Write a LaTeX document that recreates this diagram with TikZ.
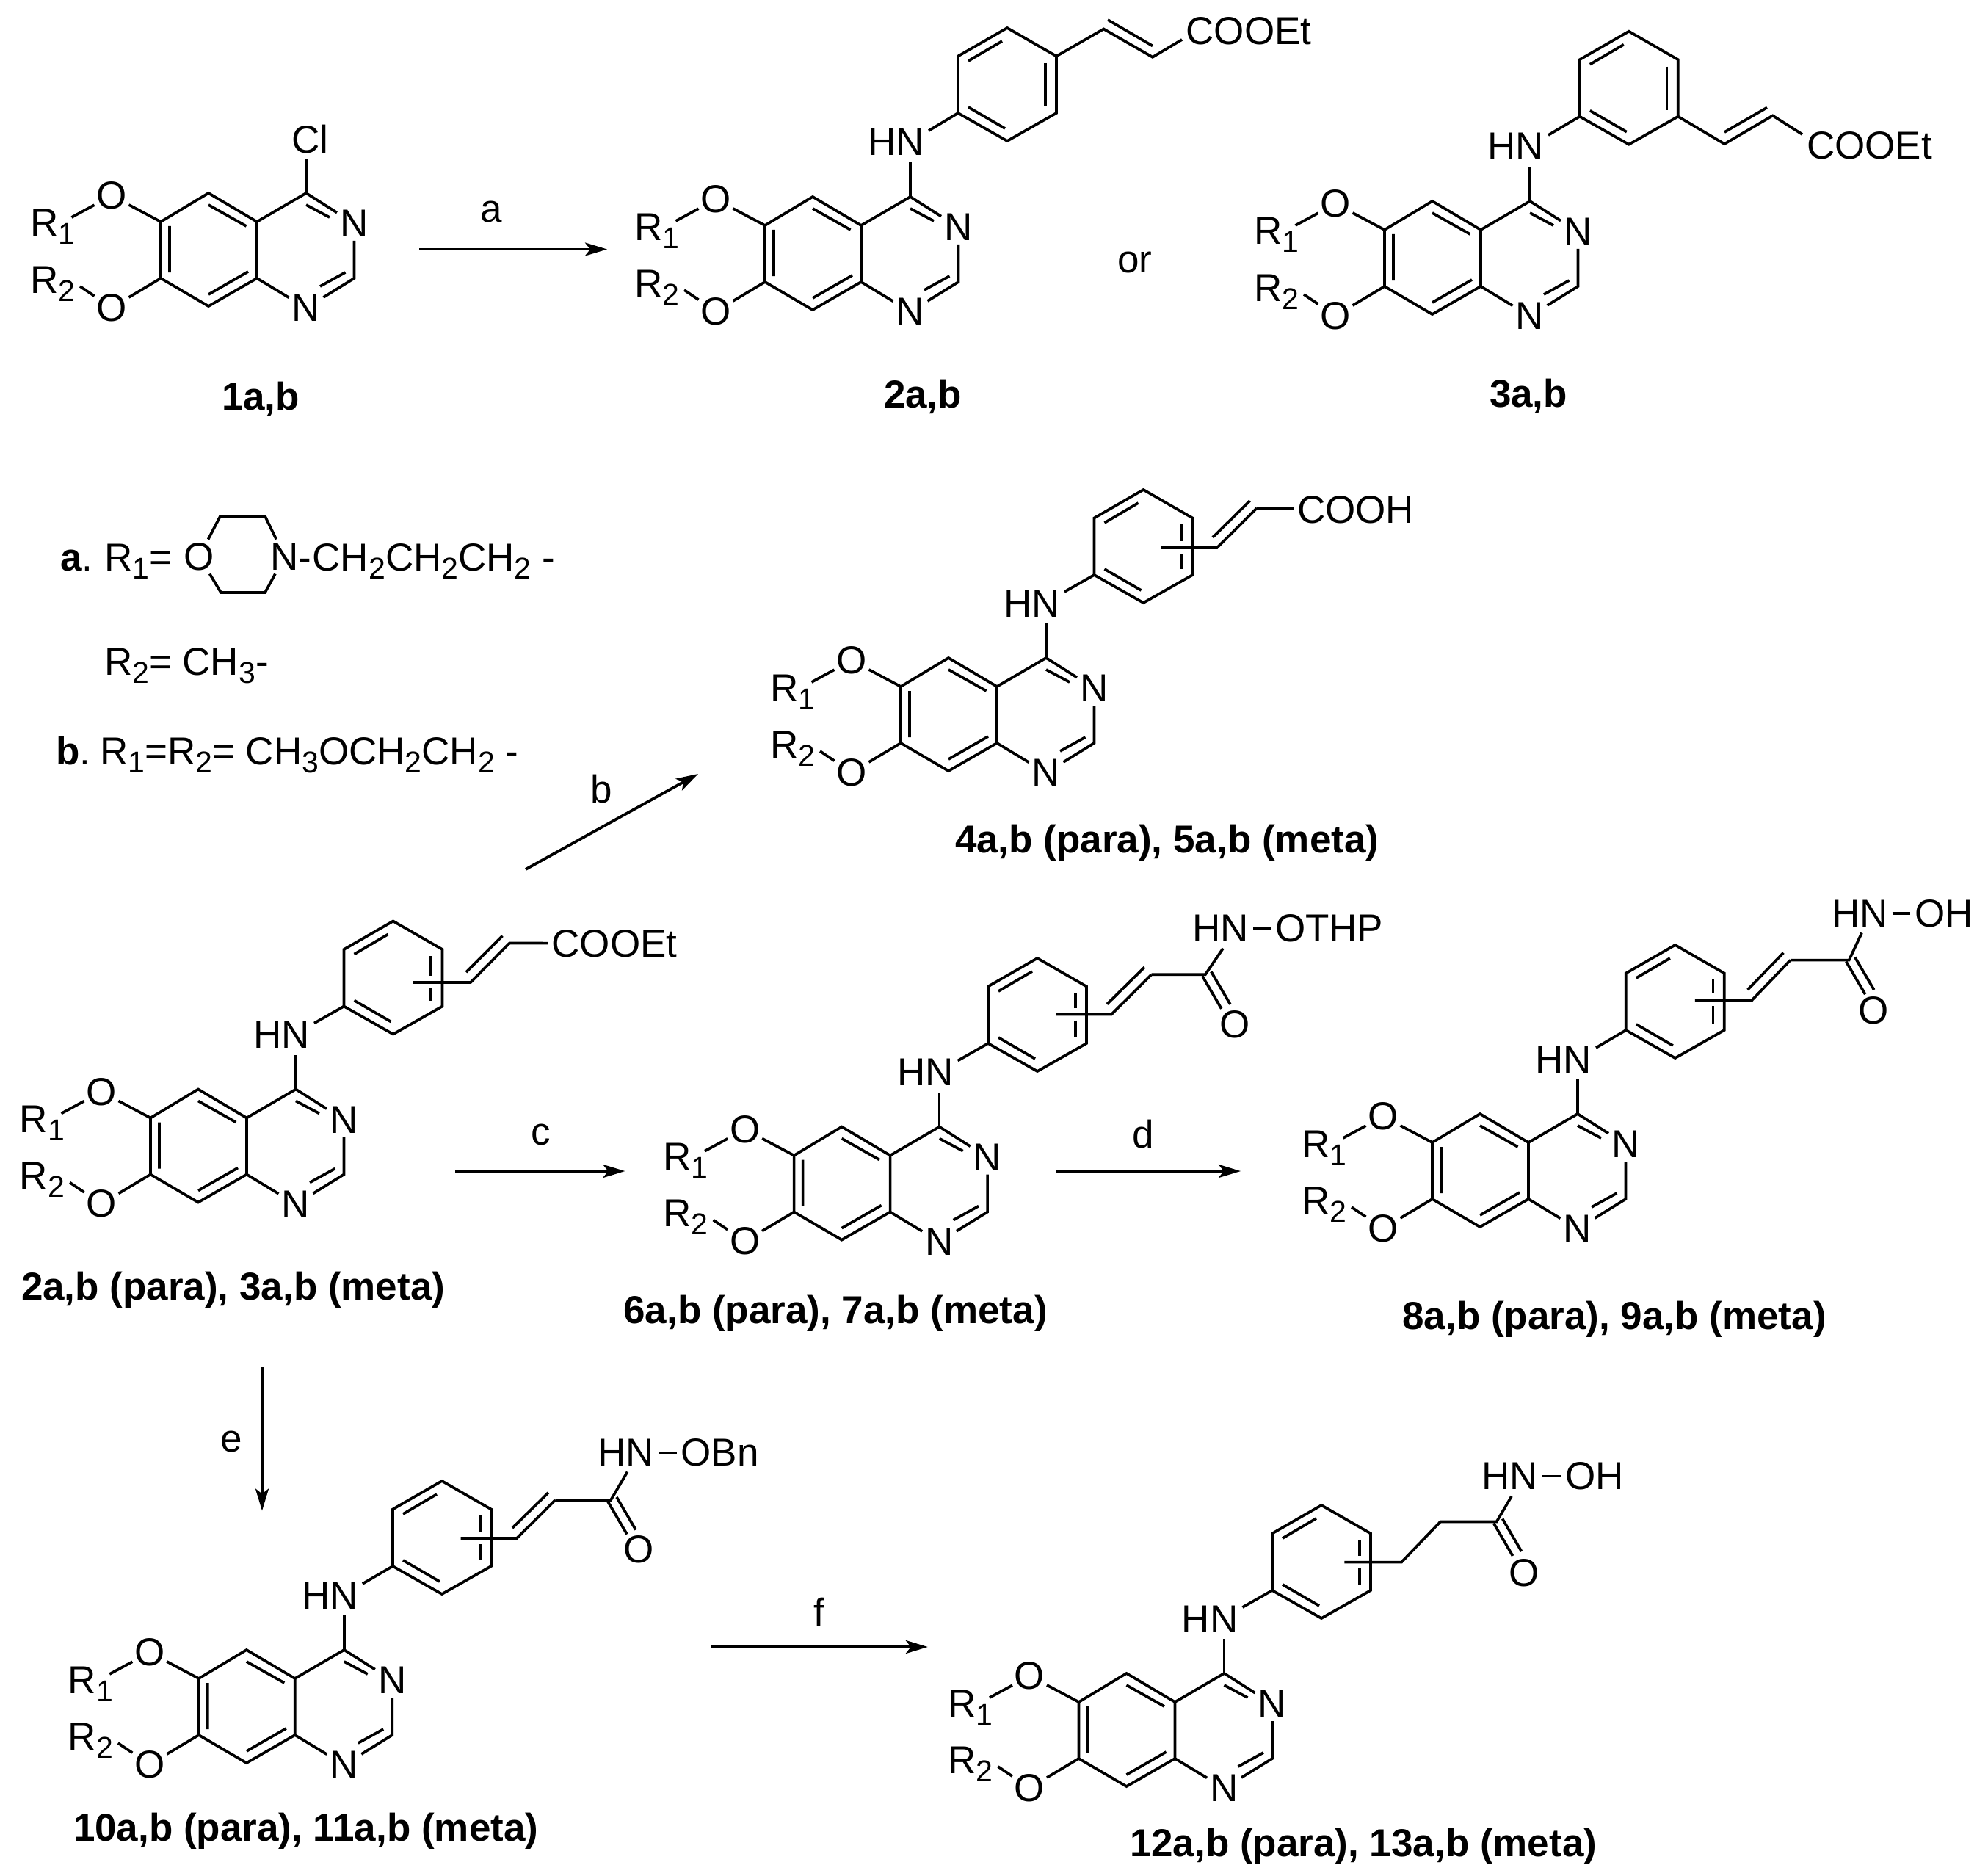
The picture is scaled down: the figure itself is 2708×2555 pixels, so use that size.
\documentclass[tikz,border=0pt]{standalone}
\usepackage{fontspec}
\setmainfont{Liberation Sans}
\usetikzlibrary{arrows.meta,calc}
\tikzset{
  x=1pt,y=-1pt,
  bond/.style={line width=3.7pt,line join=miter,line cap=butt},
  rxn/.style={line width=3.8pt,-{Stealth[length=30pt,width=18pt,inset=7pt]}},
  txt/.style={font=\fontsize{53}{60}\selectfont,inner sep=0pt,outer sep=0pt,anchor=base west},
  atom/.style={font=\fontsize{53}{60}\selectfont,inner sep=0pt,outer sep=0pt,minimum width=47pt,minimum height=47pt},
  lab/.style={font=\fontsize{53}{60}\selectfont\bfseries,inner sep=0pt,outer sep=0pt,anchor=base west},
  cond/.style={font=\fontsize{53}{60}\selectfont,inner sep=0pt,outer sep=0pt},
}
\newcommand\su[1]{\raisebox{-11pt}{\fontsize{41}{41}\selectfont #1}}
% quinazoline core: prefix, x, y of C4
\newcommand\core[3]{%
\begin{scope}[shift={(#2,#3)}]
  \coordinate (#1c4) at (0,0);
  \coordinate (#1c4a) at (-67,39);
  \coordinate (#1c5) at (-133,0);
  \coordinate (#1c6) at (-198,39);
  \coordinate (#1c7) at (-198,116);
  \coordinate (#1c8) at (-133,154);
  \coordinate (#1c8a) at (-67,116);
  \coordinate (#1c2) at (65.5,116);
  \node[atom] (#1n3) at (65.5,41.5) {N};
  \node[atom] (#1n1) at (0,156.5) {N};
  \node[atom] (#1o1) at (-265,3.5) {O};
  \node[atom] (#1o2) at (-265,156) {O};
  \node[txt] (#1r1) at (-376,59) {R\su{1}};
  \node[txt] (#1r2) at (-376,136) {R\su{2}};
  \coordinate (#1ra) at (-319.5,33);
  \coordinate (#1rb) at (-308,127);
  \draw[bond] (#1c4a)--(#1c5)--(#1c6)--(#1c7)--(#1c8)--(#1c8a)--cycle;
  \draw[bond] (#1n3)--(#1c4)--(#1c4a);
  \draw[bond] (#1n3)--(#1c2)--(#1n1)--(#1c8a);
  \draw[bond] (#1ra)--(#1o1)--(#1c6);
  \draw[bond] (#1rb)--(#1o2)--(#1c7);
  \coordinate (#1i1) at (0,16); \coordinate (#1i2) at (32,33);
  \coordinate (#1i3) at (-133,16); \coordinate (#1i4) at (-81.5,45);
  \coordinate (#1i5) at (-186,45); \coordinate (#1i6) at (-186,108);
  \coordinate (#1i7) at (-133,138); \coordinate (#1i8) at (-79,107);
  \coordinate (#1i9) at (19,127); \coordinate (#1i0) at (53.4,108);
  \draw[bond] (#1i1)--(#1i2) (#1i3)--(#1i4) (#1i5)--(#1i6) (#1i7)--(#1i8) (#1i9)--(#1i0);
  \coordinate (#1top) at (0,-47);
  \coordinate (#1na) at (25,-90);
\end{scope}}
% HN on a core
\newcommand\amine[1]{%
  \node[txt,anchor=base east] (#1hn) at ($(#1c4)+(19,-56)$) {HN};
  \draw[bond] (#1c4)--(#1top);}
% phenyl ring outline: prefix, x, y of ipso carbon
\newcommand\ring[3]{%
\begin{scope}[shift={(#2,#3)}]
  \coordinate (#1p0) at (0,0);
  \coordinate (#1p1) at (0,-77.5);
  \coordinate (#1p2) at (67,-116);
  \coordinate (#1p3) at (134,-77.5);
  \coordinate (#1p4) at (134,0);
  \coordinate (#1p5) at (67,38);
  \draw[bond] (#1p0)--(#1p1)--(#1p2)--(#1p3)--(#1p4)--(#1p5)--cycle;
  \coordinate (#1j1) at (14,-71); \coordinate (#1j2) at (60,-98);
  \coordinate (#1j3) at (14,-8); \coordinate (#1j4) at (64,21);
  \draw[bond] (#1j1)--(#1j2) (#1j3)--(#1j4);
\end{scope}
\draw[bond] (#1na)--(#1p0);}
% ring with fixed substituent: full inner right bond
\newcommand\ringfull[3]{\ring{#1}{#2}{#3}%
\begin{scope}[shift={(#2,#3)}]
  \coordinate (#1j5) at (118.7,-68); \coordinate (#1j6) at (118.7,-9);
  \draw[bond] (#1j5)--(#1j6);
\end{scope}}
% ring with floating substituent: prefix, Px, Py, start x, crossing y, C1 x, C2 x, C2 y
\newcommand\ringany[8]{\ring{#1}{#2}{#3}%
\begin{scope}[shift={(#2,#3)}]
  \coordinate (#1j5) at (118.7,-69); \coordinate (#1j6) at (118.7,{#5-9});
  \coordinate (#1j7) at (118.7,{#5+8}); \coordinate (#1j8) at (118.7,-8);
  \draw[bond] (#1j5)--(#1j6) (#1j7)--(#1j8);
  \coordinate (#1v0) at (#4,#5);
  \coordinate (#1v1) at (#6,#5);
  \coordinate (#1v2) at (#7,#8);
  \draw[bond] (#1v0)--(#1v1)--(#1v2);
\end{scope}}
% inner line of the C=C bond
\newcommand\alkene[1]{\draw[bond] ($(#1v1)+(-6,-14)$)--($(#1v2)+(-9.5,-10)$);}
% amide: prefix, C3 x, C3 y, N-end x, N-end y, O x, O y
\newcommand\amide[7]{%
  \coordinate (#1v3) at (#2,#3);
  \coordinate (#1ne) at (#4,#5);
  \node[atom] (#1oc) at (#6,#7) {O};
  \coordinate (#1d1) at ($(#1v3)+(-4,2)$); \coordinate (#1d2) at ($(#1v3)+(22,46.5)$);
  \coordinate (#1d3) at ($(#1v3)+(8,-4)$); \coordinate (#1d4) at ($(#1v3)+(34,40.5)$);
  \draw[bond] (#1v2)--(#1v3)--(#1ne);
  \draw[bond] (#1d1)--(#1d2) (#1d3)--(#1d4);}
% N-O end group: prefix, HN x, baseline, O x, text
\newcommand\hxa[5]{%
  \node[txt] (#1ha) at (#2,#3) {HN};
  \node[txt] (#1hb) at (#4,#3) {#5};
  \draw[bond,shorten <=6pt,shorten >=6pt] (#1ha.east)--(#1ha.east -| #1hb.west);}
\begin{document}
\begin{tikzpicture}
\useasboundingbox (0,0) rectangle (2708,2555);

% 1a,b
\core{a}{417}{263}
\node[txt] (acl) at (397.5,208.6) {Cl};
\draw[bond] (ac4)--(atop);
\node[lab] (l1) at (302,558.7) {1a,b};

% 2a,b
\core{b}{1240}{268}
\amine{b}
\ringfull{b}{1305}{154}
\coordinate (bv1) at (1503.4,39.5);
\coordinate (bv2) at (1570,77.8);
\coordinate (bv3) at (1610,54);
\coordinate (bv4) at (1509,27);
\coordinate (bv5) at (1570,62.5);
\draw[bond] (bp3)--(bv1)--(bv2)--(bv3) (bv4)--(bv5);
\node[txt] (bco) at (1615.5,60.6) {COOEt};
\node[lab] (l2) at (1204,555) {2a,b};

% or
\node[txt] (ortxt) at (1522,371) {or};

% 3a,b
\core{c}{2084}{274}
\amine{c}
\ringfull{c}{2151.8}{158.7}
\coordinate (cv1) at (2349,196);
\coordinate (cv2) at (2414.7,157.5);
\coordinate (cv3) at (2455,183);
\coordinate (cv4) at (2349,180);
\coordinate (cv5) at (2407,146.5);
\draw[bond] (cp4)--(cv1)--(cv2)--(cv3) (cv4)--(cv5);
\node[txt] (cco) at (2461,217) {COOEt};
\node[lab] (l3) at (2029,554) {3a,b};

% substituent key
\node[txt] (ka) at (82,777) {\textbf{a}.};
\node[txt] (kr1) at (142,777) {R\su{1}=};
\node[atom] (mo) at (271.4,758) {O};
\node[atom] (mn) at (387.8,758) {N};
\coordinate (m1) at (300,703);
\coordinate (m2) at (361,703);
\coordinate (m3) at (301,807);
\coordinate (m4) at (361,807);
\draw[bond] (mo)--(m1)--(m2)--(mn);
\draw[bond] (mo)--(m3)--(m4)--(mn);
\node[txt] (kch) at (406,777) {-\kern2pt CH\su{2}CH\su{2}CH\su{2} -};
\node[txt] (kr2) at (142,919.6) {R\su{2}= CH\su{3}-};
\node[txt] (kb) at (76,1041.8) {\textbf{b}.};
\node[txt] (kb2) at (136,1041.8) {R\su{1}=R\su{2}=\ CH\su{3}OCH\su{2}CH\su{2} -};

% 4a,b / 5a,b
\core{d}{1425}{896}
\amine{d}
\ringany{d}{1490.5}{783}{90.5}{-37}{167.3}{221.5}{-91}
\alkene{d}
\coordinate (dv3) at (1763,692);
\draw[bond] (dv2)--(dv3);
\node[txt] (dco) at (1767,712) {COOH};
\node[lab] (l4) at (1301,1161) {4a,b (para), 5a,b (meta)};

% 2a,b / 3a,b general
\core{e}{403}{1483.5}
\amine{e}
\ringany{e}{468.5}{1370.5}{94}{-32.5}{172.5}{225.4}{-86}
\alkene{e}
\coordinate (ev3) at (746.2,1284.6);
\draw[bond] (ev2)--(ev3);
\node[txt] (eco) at (751.5,1303.7) {COOEt};
\node[lab] (l5) at (29,1770.5) {2a,b (para), 3a,b (meta)};

% 6a,b / 7a,b
\core{f}{1279.6}{1534.6}
\amine{f}
\ringany{f}{1346}{1421}{93}{-39.5}{168}{222.5}{-93.7}
\alkene{f}
\amide{f}{1641.8}{1327.3}{1666}{1291.6}{1682}{1395.5}
\hxa{f}{1624}{1282}{1737}{OTHP}
\node[lab] (l6) at (849.5,1802.4) {6a,b (para), 7a,b (meta)};

% 8a,b / 9a,b
\core{g}{2149}{1517}
\amine{g}
\ringany{g}{2214.8}{1403}{94}{-41}{171.8}{224}{-95.4}
\alkene{g}
\amide{g}{2518.7}{1307.6}{2536}{1270.5}{2552}{1376}
\hxa{g}{2495}{1262.5}{2608}{OH}
\node[lab] (l8) at (1910.5,1810) {8a,b (para), 9a,b (meta)};

% 10a,b / 11a,b
\core{h}{468.8}{2247}
\amine{h}
\ringany{h}{535}{2133}{92.7}{-38}{169}{221.3}{-90}
\alkene{h}
\amide{h}{832}{2043}{854.6}{2004.6}{870.5}{2110.5}
\hxa{h}{814}{1996.8}{927.5}{OBn}
\node[lab] (l10) at (100,2507.8) {10a,b (para), 11a,b (meta)};

% 12a,b / 13a,b
\core{k}{1667.5}{2279}
\amine{k}
\ringany{k}{1733}{2166}{98.4}{-38.4}{176}{229}{-93.5}
\amide{k}{2038.6}{2072.5}{2059}{2037.8}{2075.6}{2142}
\hxa{k}{2018.7}{2028.7}{2132}{OH}
\node[lab] (l12) at (1539,2528.6) {12a,b (para), 13a,b (meta)};

% reaction arrows
\coordinate (ra1) at (571,339.5); \coordinate (ra2) at (827,339.5);
\coordinate (rb1) at (716,1184); \coordinate (rb2) at (951,1054);
\coordinate (rc1) at (620,1595); \coordinate (rc2) at (851.4,1595);
\coordinate (rd1) at (1437.8,1595); \coordinate (rd2) at (1690,1595);
\coordinate (re1) at (357,1862.4); \coordinate (re2) at (357,2057.5);
\coordinate (rf1) at (969,2243); \coordinate (rf2) at (1263.8,2243);
\draw[rxn] (ra1)--(ra2);
\draw[rxn] (rb1)--(rb2);
\draw[rxn] (rc1)--(rc2);
\draw[rxn] (rd1)--(rd2);
\draw[rxn] (re1)--(re2);
\draw[rxn] (rf1)--(rf2);
\node[cond] (ta) at (669,289) {a};
\node[cond] (tb) at (819.5,1075) {b};
\node[cond] (tc) at (736.6,1545) {c};
\node[cond] (td) at (1557,1545) {d};
\node[cond] (te) at (315.7,1963) {e};
\node[cond] (tf) at (1116,2195) {f};
\end{tikzpicture}
\end{document}
